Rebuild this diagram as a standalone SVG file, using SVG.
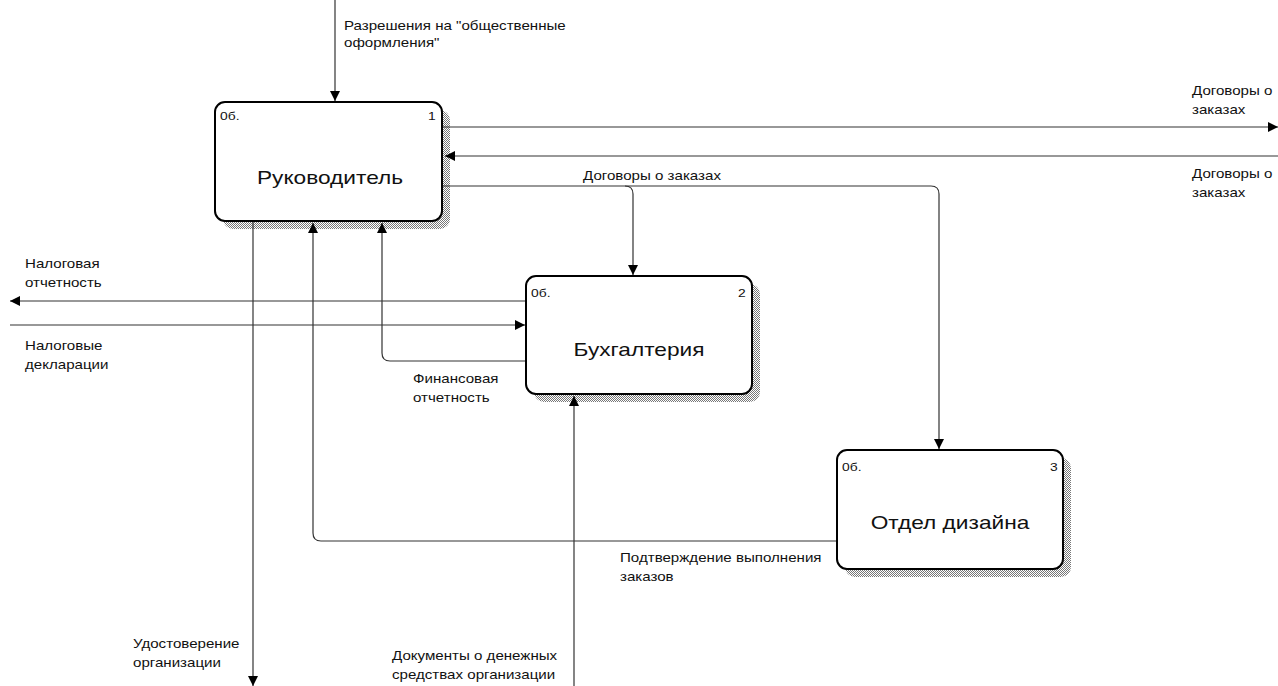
<svg xmlns="http://www.w3.org/2000/svg" width="1278" height="686" viewBox="0 0 1278 686">
<style>
text{font-family:"Liberation Sans",Arial,sans-serif;fill:#111}
.lbl{font-size:12px}
.ttl{font-size:18px;text-anchor:middle}
.sm{font-size:11px}
.box{fill:#fff;stroke:#000;stroke-width:2}
.shd{fill:url(#hatch)}
.ln{fill:none;stroke:#333;stroke-width:1.2}
</style>
<defs>
<pattern id="hatch" width="2" height="2" patternUnits="userSpaceOnUse">
<rect width="2" height="2" fill="#fff"/>
<rect width="1" height="1" fill="#777"/>
<rect x="1" y="1" width="1" height="1" fill="#777"/>
</pattern>
<marker id="ar" viewBox="0 0 10 10" refX="10" refY="5" markerWidth="10" markerHeight="10" markerUnits="userSpaceOnUse" orient="auto">
<path d="M0,0 L10,5 L0,10 z" fill="#000"/>
</marker>
</defs>
<rect width="1278" height="686" fill="#fff"/>

<g id="node-1">
<rect class="shd" x="223" y="110" width="227" height="119" rx="10"/>
<rect class="box" x="215" y="102" width="227" height="119" rx="10"/>
<text class="sm" transform="translate(220,120) scale(1.26,1)">0б.</text>
<text class="sm" transform="translate(428,120) scale(1.26,1)">1</text>
<text class="ttl" transform="translate(330,184) scale(1.26,1)">Руководитель</text>
</g>
<g id="node-2">
<rect class="shd" x="534" y="284" width="226" height="118" rx="10"/>
<rect class="box" x="526" y="276" width="226" height="118" rx="10"/>
<text class="sm" transform="translate(531,297) scale(1.26,1)">0б.</text>
<text class="sm" transform="translate(738,297) scale(1.26,1)">2</text>
<text class="ttl" transform="translate(639,356) scale(1.26,1)">Бухгалтерия</text>
</g>
<g id="node-3">
<rect class="shd" x="845" y="458" width="226" height="119" rx="10"/>
<rect class="box" x="837" y="450" width="226" height="119" rx="10"/>
<text class="sm" transform="translate(842,471) scale(1.26,1)">0б.</text>
<text class="sm" transform="translate(1050,471) scale(1.26,1)">3</text>
<text class="ttl" transform="translate(950,529) scale(1.26,1)">Отдел дизайна</text>
</g>

<g id="connectors">
<path class="ln" d="M335,0 V101" marker-end="url(#ar)"/>
<path class="ln" d="M443,127 H1278" marker-end="url(#ar)"/>
<path class="ln" d="M1278,156 H445" marker-end="url(#ar)"/>
<path class="ln" d="M443,186 H931 Q939,186 939,194 V449" marker-end="url(#ar)"/>
<path class="ln" d="M625,186 Q633,186 633,194 V275" marker-end="url(#ar)"/>
<path class="ln" d="M525,301 H10" marker-end="url(#ar)"/>
<path class="ln" d="M10,325 H525" marker-end="url(#ar)"/>
<path class="ln" d="M525,361 H390 Q382,361 382,353 V223" marker-end="url(#ar)"/>
<path class="ln" d="M836,541 H321 Q313,541 313,533 V223" marker-end="url(#ar)"/>
<path class="ln" d="M253,222 V686" marker-end="url(#ar)"/>
<path class="ln" d="M574,686 V396" marker-end="url(#ar)"/>
</g>

<g id="labels">
<text class="lbl" transform="translate(344,30) scale(1.26,1)">Разрешения на "общественные</text>
<text class="lbl" transform="translate(344,47) scale(1.26,1)">оформления"</text>
<text class="lbl" transform="translate(1192,95) scale(1.26,1)">Договоры о</text>
<text class="lbl" transform="translate(1192,114) scale(1.26,1)">заказах</text>
<text class="lbl" transform="translate(1192,178) scale(1.26,1)">Договоры о</text>
<text class="lbl" transform="translate(1192,197) scale(1.26,1)">заказах</text>
<text class="lbl" transform="translate(583,180) scale(1.26,1)">Договоры о заказах</text>
<text class="lbl" transform="translate(25,268) scale(1.26,1)">Налоговая</text>
<text class="lbl" transform="translate(25,287) scale(1.26,1)">отчетность</text>
<text class="lbl" transform="translate(25,350) scale(1.26,1)">Налоговые</text>
<text class="lbl" transform="translate(25,369) scale(1.26,1)">декларации</text>
<text class="lbl" transform="translate(413,383) scale(1.26,1)">Финансовая</text>
<text class="lbl" transform="translate(413,402) scale(1.26,1)">отчетность</text>
<text class="lbl" transform="translate(620,562) scale(1.26,1)">Подтверждение выполнения</text>
<text class="lbl" transform="translate(620,581) scale(1.26,1)">заказов</text>
<text class="lbl" transform="translate(133,648) scale(1.26,1)">Удостоверение</text>
<text class="lbl" transform="translate(133,667) scale(1.26,1)">организации</text>
<text class="lbl" transform="translate(392,660) scale(1.26,1)">Документы о денежных</text>
<text class="lbl" transform="translate(392,679) scale(1.26,1)">средствах организации</text>
</g>
</svg>
